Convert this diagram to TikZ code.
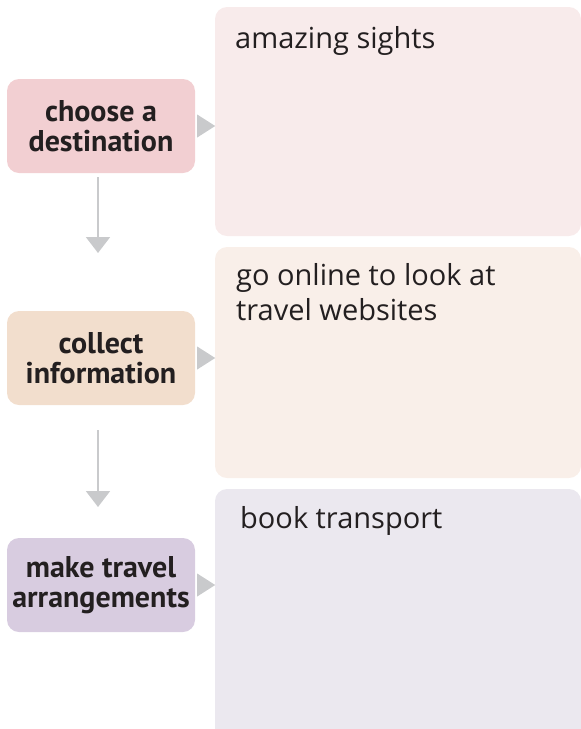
\documentclass[tikz,border=0pt]{standalone}
\usepackage{fontspec}
\setmainfont{PT Sans}
\newfontfamily\handfont{Open Sans}
\usetikzlibrary{arrows.meta}
\definecolor{pinkA}{HTML}{F2CFD2}
\definecolor{pinkB}{HTML}{F8EBEB}
\definecolor{peachA}{HTML}{F2DECD}
\definecolor{peachB}{HTML}{F9EFE9}
\definecolor{lilacA}{HTML}{D8CCE0}
\definecolor{lilacB}{HTML}{EBE8EF}
\definecolor{arrgray}{HTML}{C9CACC}
\definecolor{ink}{HTML}{231F20}
\tikzset{
  stepbox/.style={rounded corners=12pt, minimum width=188pt, minimum height=94pt, inner sep=0pt, align=center, text=ink, font=\bfseries\fontsize{30}{30}\selectfont},
  notebox/.style={rounded corners=12pt, minimum width=366pt, inner sep=0pt},
  hand/.style={inner sep=0pt, text=ink, align=left, font=\handfont\fontsize{29}{35}\selectfont},
  downarrow/.style={draw=arrgray, line width=2pt, -{Triangle[width=24pt,length=16pt]}},
  sidetri/.style={fill=arrgray}
}
\begin{document}
\begin{tikzpicture}[x=1pt,y=-1pt]
\useasboundingbox (0,0) rectangle (581,729);
% right note boxes
\node[notebox, fill=pinkB, minimum height=229pt] (nA) at (398,121.5) {};
\node[notebox, fill=peachB, minimum height=231pt] (nB) at (398,362.5) {};
\node[notebox, fill=lilacB, minimum height=252pt] (nC) at (398,615) {};
% note texts
\node[hand, anchor=base west] (tA) at (235,48) {amazing sights};
\node[hand, anchor=base west] (tB) at (236,320) {go online to look at\\travel websites};
\node[hand, anchor=base west] (tC) at (240,528) {book transport};
% step boxes
\node[stepbox, fill=pinkA] (s1) at (101,126) {choose a\\destination};
\node[stepbox, fill=peachA] (s2) at (101,358) {collect\\information};
\node[stepbox, fill=lilacA] (s3) at (101,585) {make travel\\arrangements};
% side triangles
\fill[sidetri] ([xshift=2pt,yshift=11.5pt]s1.east) -- ([xshift=20pt]s1.east) -- ([xshift=2pt,yshift=-11.5pt]s1.east) -- cycle;
\fill[sidetri] ([xshift=2pt,yshift=11.5pt]s2.east) -- ([xshift=20pt]s2.east) -- ([xshift=2pt,yshift=-11.5pt]s2.east) -- cycle;
\fill[sidetri] ([xshift=2pt,yshift=11.5pt]s3.east) -- ([xshift=20pt]s3.east) -- ([xshift=2pt,yshift=-11.5pt]s3.east) -- cycle;
% down arrows
\coordinate (d1a) at (98,177);
\coordinate (d1b) at (98,253);
\coordinate (d2a) at (98,430);
\coordinate (d2b) at (98,507);
\draw[downarrow] (d1a) -- (d1b);
\draw[downarrow] (d2a) -- (d2b);
\end{tikzpicture}
\end{document}
